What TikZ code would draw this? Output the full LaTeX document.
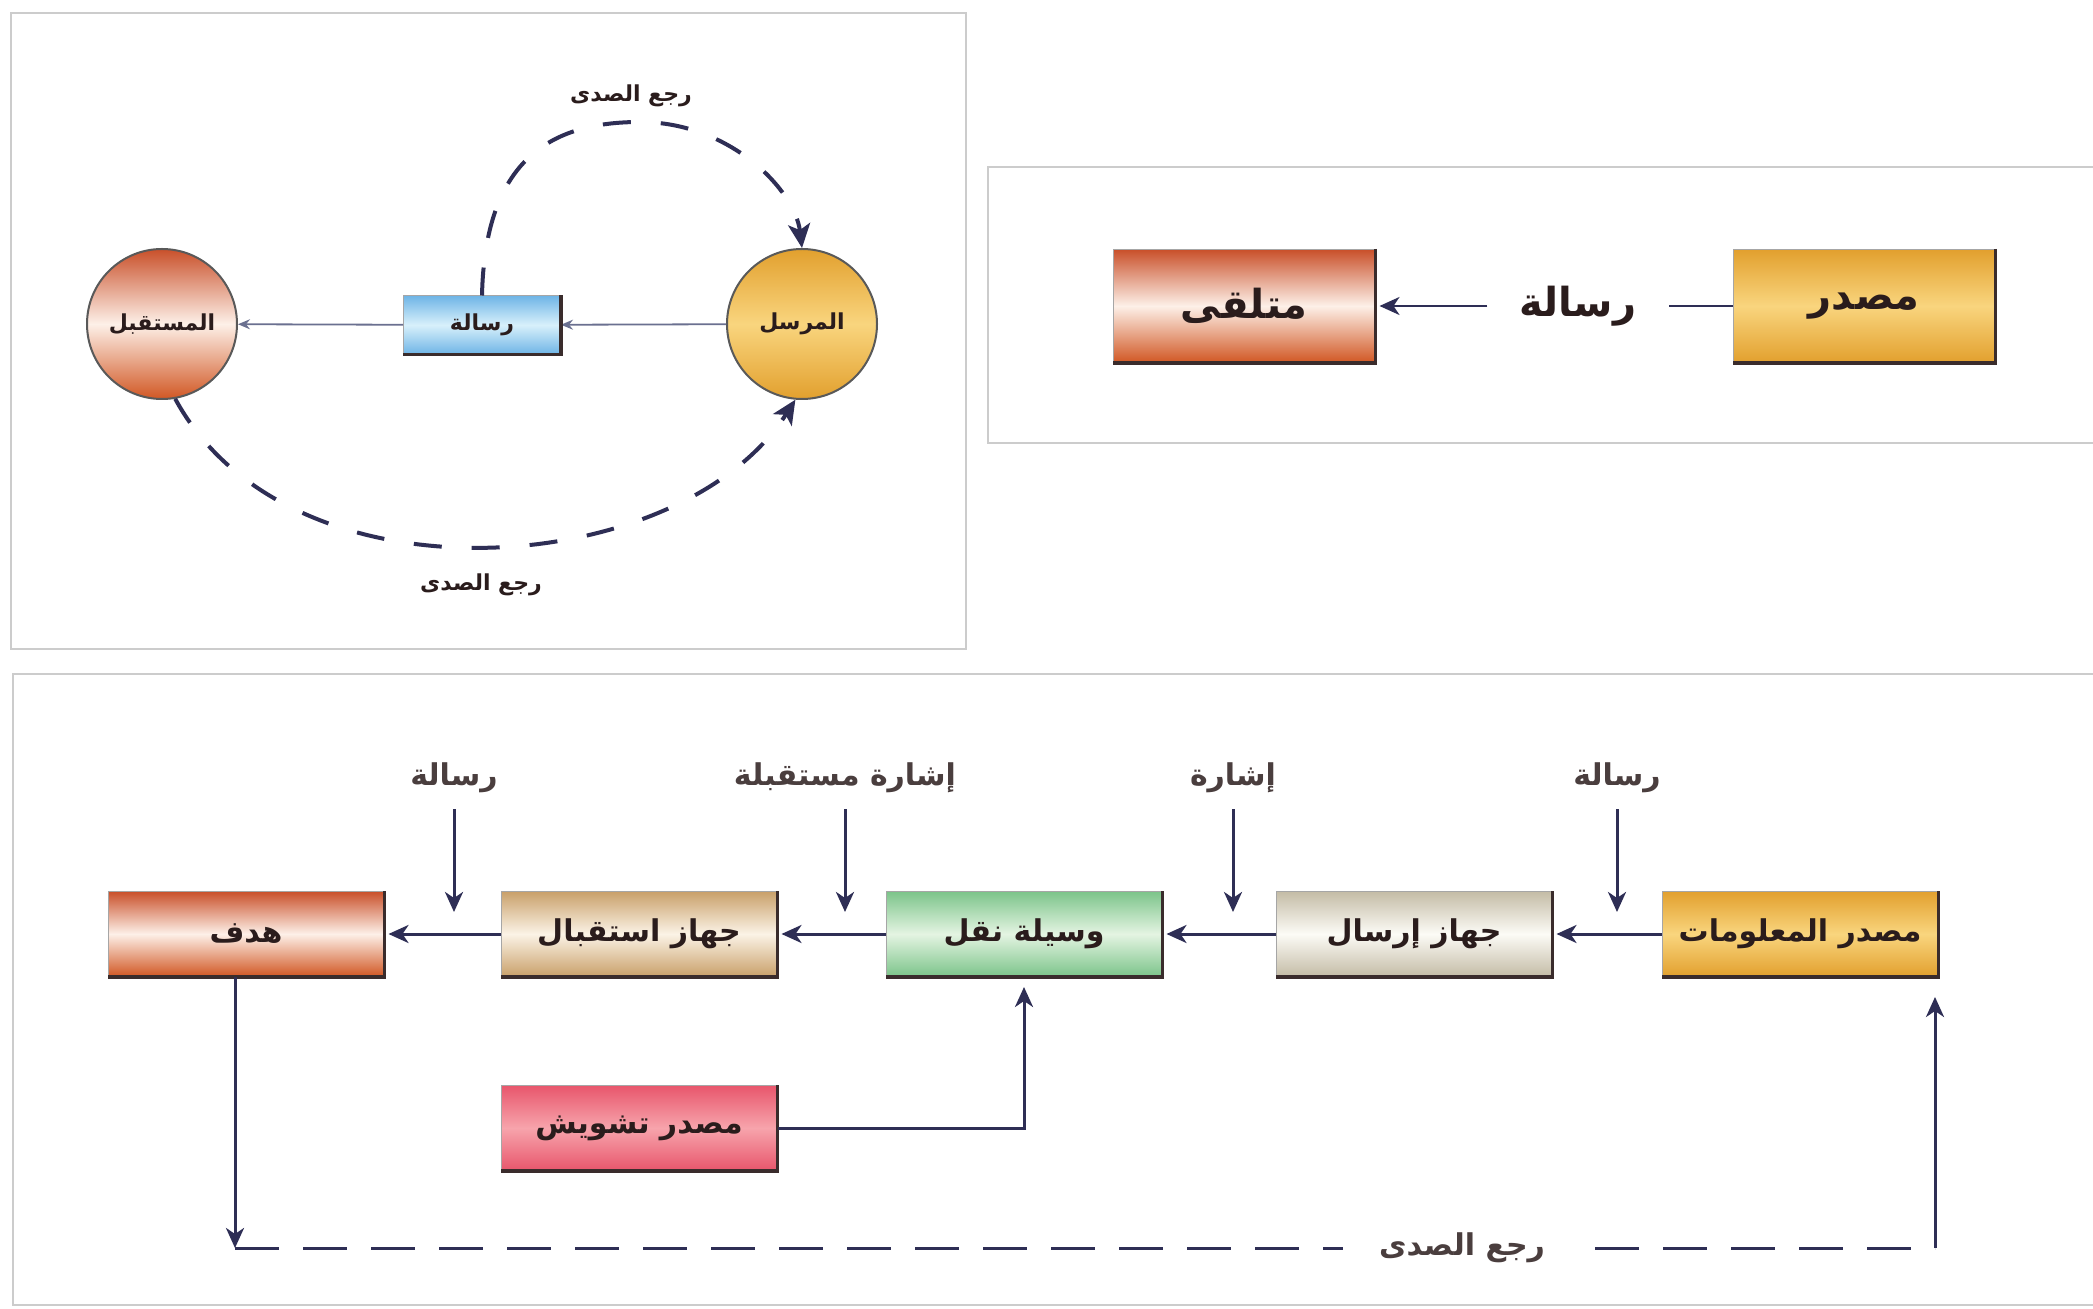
\documentclass[tikz,border=0pt]{standalone}
\usepackage{fontspec}
\newfontfamily\arfont[Script=Arabic]{DejaVu Sans}
\TeXXeTstate=1
\usetikzlibrary{arrows.meta,calc}
\newcommand\artx[1]{\beginR #1\endR}
\newcommand\ftone{\arfont\bfseries\fontsize{11}{13}\selectfont}
\newcommand\fttwo{\arfont\bfseries\fontsize{20}{23}\selectfont}
\newcommand\ftthree{\arfont\bfseries\fontsize{15}{18}\selectfont}
\definecolor{goldA}{HTML}{E2A02E}
\definecolor{goldB}{HTML}{F9D57E}
\definecolor{redA}{HTML}{C9502A}
\definecolor{redB}{HTML}{FDF0E8}
\definecolor{blueA}{HTML}{6FB5E6}
\definecolor{blueB}{HTML}{D8F0FB}
\definecolor{greenA}{HTML}{7CC48A}
\definecolor{greenB}{HTML}{E4F4E2}
\definecolor{tanA}{HTML}{C9A06A}
\definecolor{tanB}{HTML}{FBF3E6}
\definecolor{greyA}{HTML}{C4BCA6}
\definecolor{greyB}{HTML}{FCFBF6}
\definecolor{pinkA}{HTML}{E8566C}
\definecolor{pinkB}{HTML}{F7A4AC}
\definecolor{navy}{HTML}{2E2E55}
\definecolor{thinline}{HTML}{6A7090}
\definecolor{txt}{HTML}{2A1C1C}
\definecolor{shadowc}{HTML}{3A2C2C}
\tikzset{
  frame/.style={draw=black!20, line width=1.2pt},
  box/.style={draw=black!35, line width=0.5pt, inner sep=0pt, text=txt},
  box3/.style={box, minimum width=138pt, minimum height=42.5pt, font=\ftthree},
  box2/.style={box, minimum width=131pt, minimum height=56.5pt, font=\fttwo},
  circ/.style={circle, draw=black!65, line width=1pt, minimum size=75pt, inner sep=0pt, text=txt, font=\ftone},
  goldfill/.style={top color=goldA, bottom color=goldA, middle color=goldB},
  redfill/.style={top color=redA, bottom color=redA!85!orange, middle color=redB},
  bluefill/.style={top color=blueA, bottom color=blueA, middle color=blueB},
  greenfill/.style={top color=greenA, bottom color=greenA, middle color=greenB},
  tanfill/.style={top color=tanA, bottom color=tanA, middle color=tanB},
  greyfill/.style={top color=greyA, bottom color=greyA, middle color=greyB},
  pinkfill/.style={top color=pinkA, bottom color=pinkA, middle color=pinkB},
  shadowline/.style={draw=shadowc, line width=1.6pt},
  arr/.style={draw=navy, line width=1.5pt, -{Stealth[length=10pt,width=9pt,inset=3pt]}},
  thinarr/.style={draw=thinline, line width=0.9pt, -{Stealth[length=6pt,width=5pt,inset=2pt]}},
  fbdash/.style={draw=navy, line width=1.5pt, dash pattern=on 22pt off 12pt},
  arcdash/.style={draw=navy, line width=2pt, dash pattern=on 14pt off 15pt},
  lab1/.style={text=txt, font=\ftone, inner sep=2pt},
  lab3/.style={text=txt!85!white, font=\ftthree, inner sep=2pt},
}
\begin{document}
\begin{tikzpicture}[x=0.5pt,y=-0.5pt]
\useasboundingbox (0,0) rectangle (2093,1309);
\fill[white] (0,0) rectangle (2093,1309);
% frames
\draw[frame] (11,13) rectangle (966,649);
\draw[frame] (2100,167) -- (988,167) -- (988,443) -- (2100,443);
\draw[frame] (2100,674) -- (13,674) -- (13,1305) -- (2100,1305);

% ---------- panel 1
\node[circ, redfill] (rcv) at (162,324) {\artx{المستقبل}};
\node[circ, goldfill] (snd) at (802,324) {\artx{المرسل}};
\node[box, bluefill, minimum width=78.5pt, minimum height=29pt, font=\ftone] (msg) at (482,325) {\artx{رسالة}};
\draw[thinarr] (snd) -- (msg);
\draw[thinarr] (msg) -- (rcv);
\draw[arcdash, -{Stealth[length=12pt,width=11pt,inset=3pt]}] (msg.north) .. controls (485,160) and (550,122) .. (640,122) .. controls (730,122) and (795,190) .. (snd.north);
\draw[arcdash, -{Stealth[length=12pt,width=11pt,inset=3pt]}] (rcv.-80) .. controls (290,610) and (680,580) .. (snd.-95);
\node[lab1] (fbtop) at (631,96) {\artx{رجع الصدى}};
\node[lab1] (fbbot) at (481,585) {\artx{رجع الصدى}};

% ---------- panel 2
\node[box2, goldfill] (masdar) at (1864,306) {\artx{مصدر}};
\node[box2, redfill] (mutalaqqi) at (1244,306) {\artx{متلقى}};
\node[font=\fttwo, text=txt, inner xsep=16pt] (risala2) at (1578,306) {\artx{رسالة}};
\draw[draw=navy, line width=1.2pt] (masdar.west) -- (risala2.east);
\draw[arr, line width=1.2pt, shorten >=2pt] (risala2.west) -- (mutalaqqi.east);

% ---------- panel 3
\node[box3, goldfill] (src) at (1800,934) {\artx{مصدر المعلومات}};
\node[box3, greyfill] (tx) at (1414,934) {\artx{جهاز إرسال}};
\node[box3, greenfill] (med) at (1024,934) {\artx{وسيلة نقل}};
\node[box3, tanfill] (rx) at (639,934) {\artx{جهاز استقبال}};
\node[box3, redfill] (goal) at (246,934) {\artx{هدف}};
\node[box3, pinkfill] (noise) at (639,1128) {\artx{مصدر تشويش}};

\foreach \n in {msg,masdar,mutalaqqi,src,tx,med,rx,goal,noise}
  \draw[shadowline] (\n.north east) -- (\n.south east) -- (\n.south west);

\draw[arr, shorten >=2pt] (src) -- (tx);
\draw[arr, shorten >=2pt] (tx) -- (med);
\draw[arr, shorten >=2pt] (med) -- (rx);
\draw[arr, shorten >=2pt] (rx) -- (goal);

\node[lab3] (l1) at (1617,778) {\artx{رسالة}};
\node[lab3] (l2) at (1233,778) {\artx{إشارة}};
\node[lab3] (l3) at (845,778) {\artx{إشارة مستقبلة}};
\node[lab3] (l4) at (454,778) {\artx{رسالة}};
\coordinate (e1) at (1617,912);
\coordinate (e2) at (1233,912);
\coordinate (e3) at (845,912);
\coordinate (e4) at (454,912);
\draw[arr, shorten <=6pt] (l1) -- (e1);
\draw[arr, shorten <=6pt] (l2) -- (e2);
\draw[arr, shorten <=6pt] (l3) -- (e3);
\draw[arr, shorten <=6pt] (l4) -- (e4);

\draw[arr, shorten >=5pt] (noise.east) -| (med.south);

\coordinate (fbL) at (235,1248);
\coordinate (fbR) at (1935,1248);
\draw[arr] (goal.south -| fbL) -- (fbL);
\draw[fbdash] (fbL) -- (fbR);
\draw[arr, shorten >=10pt] (fbR) -- (src.south -| fbR);
\node[lab3, fill=white, inner xsep=18pt] (fbtxt) at (1462,1248) {\artx{رجع الصدى}};
\end{tikzpicture}
\end{document}
